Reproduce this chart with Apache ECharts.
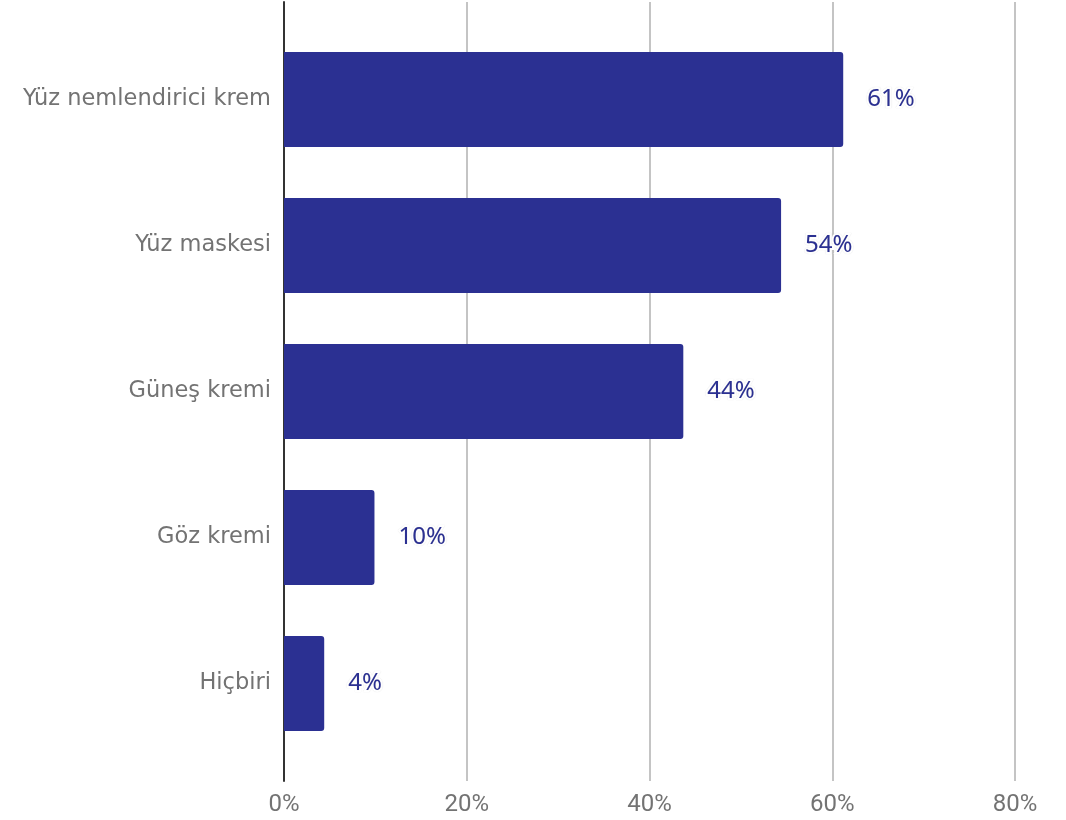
<!DOCTYPE html>
<html>
<head>
<meta charset="utf-8">
<script src="https://cdn.jsdelivr.net/npm/echarts@6/dist/echarts.min.js"></script>
<style>
  html, body { margin: 0; padding: 0; background: #fff; }
  #chart { width: 1066px; height: 820px; }
</style>
</head>
<body>
<div id="chart"></div>
<script>
// data
var categories = ['Yüz nemlendirici krem', 'Yüz maskesi', 'Güneş kremi', 'Göz kremi', 'Hiçbiri'];
var shares = [61.2, 54.4, 43.7, 9.9, 4.4];
var tickValues = [0, 20, 40, 60, 80];

var barColor = '#2b3092';
var greyText = '#737373';

var myChart = echarts.init(document.getElementById('chart'));

var option = {
    animation: false,
    grid: [
        // background grid: gridlines + tick labels, full height
        { left: 284, right: 51, top: 2, bottom: 39 },
        // bars sit in a slightly inset band
        { left: 284, right: 51, top: 26.5, bottom: 63.5 }
    ],
    xAxis: [{
        gridIndex: 0,
        type: 'value',
        min: tickValues[0],
        max: tickValues[tickValues.length - 1],
        interval: 20,
        axisLine: { show: false },
        axisTick: { show: false },
        splitLine: { show: true, lineStyle: { color: '#c4c4c4', width: 2 } },
        axisLabel: {
            margin: 12,
            fontFamily: 'Roboto',
            fontSize: 24,
            color: greyText,
            formatter: '{value}%'
        }
    }, {
        gridIndex: 1,
        type: 'value',
        min: tickValues[0],
        max: tickValues[tickValues.length - 1],
        show: false
    }],
    yAxis: [{
        gridIndex: 0,
        type: 'category',
        data: [],
        axisLine: { show: true, lineStyle: { color: '#333', width: 2 } },
        axisTick: { show: false },
        axisLabel: { show: false },
        splitLine: { show: false }
    }, {
        gridIndex: 1,
        type: 'category',
        inverse: true,
        data: categories,
        axisLine: { show: false },
        axisTick: { show: false },
        splitLine: { show: false },
        axisLabel: {
            margin: 13,
            fontFamily: 'DejaVu Sans',
            fontSize: 22.5,
            color: greyText
        }
    }],
    series: [{
        type: 'bar',
        xAxisIndex: 1,
        yAxisIndex: 1,
        barCategoryGap: '35%',
        data: shares,
        itemStyle: {
            color: barColor,
            borderRadius: [0, 3, 3, 0]
        },
        label: {
            show: true,
            position: 'right',
            distance: 24,
            fontFamily: 'Noto Sans',
            fontSize: 24,
            color: barColor,
            textBorderColor: '#fff',
            textBorderWidth: 4,
            textShadowColor: 'rgba(0,0,0,0.15)',
            textShadowBlur: 1,
            formatter: function (p) {
                return Math.round(p.value) + '%';
            }
        }
    }]
};

myChart.setOption(option);
</script>
</body>
</html>
